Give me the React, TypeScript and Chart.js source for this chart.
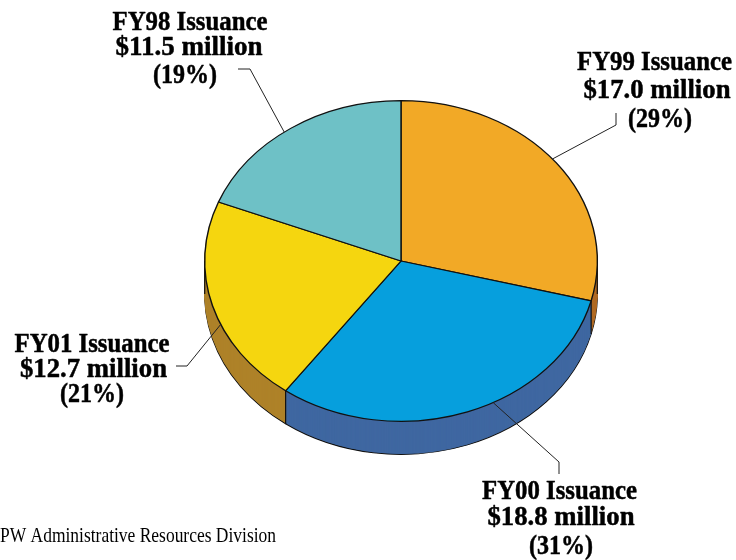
import React, { useEffect, useRef } from "react";
import { Chart, registerables } from "chart.js";

Chart.register(...registerables);

// Data
const categories = ["FY99 Issuance", "FY00 Issuance", "FY01 Issuance", "FY98 Issuance"];
const percents = [29, 31, 21, 19];
const amountLabels = ["$17.0 million", "$18.8 million", "$12.7 million", "$11.5 million"];
const percentLabels = ["(29%)", "(31%)", "(21%)", "(19%)"];
const footer = "PW Administrative Resources Division";

// Styles
const topColors = ["#F2A926", "#069FDD", "#F5D60F", "#6EC1C6"];
const sideColors = ["#B06A24", "#3F67A1", "#AE8229", "#4F8E92"];
const squash = 0.817;
const depth = 33;
const labelCenters = [
  [654.5, 657, 660],
  [559.5, 561, 561],
  [92, 93.5, 92],
  [190, 189, 185],
];
const labelWidths = [155, 147, 64];
const labelBaselines = [
  [70, 98, 127],
  [499, 525, 554],
  [352, 377, 402],
  [30, 55, 83],
];
const leaderTail = [
  [[616, 113], [616, 125]],
  [[559, 474], [559, 462]],
  [[176, 366], [187, 366]],
  [[238, 69], [250, 69]],
];
const leaderAngleShift = [-1.7, -8.2, -7.1, -2.3];

const pie3d = {
  id: "pie3d",
  beforeDatasetsDraw(chart: any) {
    const { ctx } = chart;
    const arcs = chart.getDatasetMeta(0).data;
    const cx = arcs[0].x;
    const cy = arcs[0].y;
    const r = arcs[0].outerRadius;
    ctx.save();
    // Extruded side, layer by layer from the bottom
    for (let d = depth; d >= 1; d--) {
      ctx.save();
      ctx.translate(0, d);
      ctx.translate(0, cy);
      ctx.scale(1, squash);
      ctx.translate(0, -cy);
      arcs.forEach((arc: any, i: number) => {
        const orig = arc.options;
        const o = Object.create(orig);
        o.backgroundColor = sideColors[i];
        o.borderColor = d === depth ? "#111" : sideColors[i];
        o.borderWidth = d === depth ? 1.2 : 0.6;
        arc.options = o;
        arc.draw(ctx);
        arc.options = orig;
      });
      ctx.restore();
    }
    // Vertical edges of the side wall
    ctx.strokeStyle = "#111";
    ctx.lineWidth = 1.2;
    const edge = (a: number) => {
      const x = cx + r * Math.cos(a);
      const y = cy + squash * r * Math.sin(a);
      ctx.beginPath();
      ctx.moveTo(x, y);
      ctx.lineTo(x, y + depth);
      ctx.stroke();
    };
    edge(arcs[2].startAngle);
    edge(arcs[1].startAngle);
    edge(Math.PI);
    edge(0);
    ctx.restore();
    // Squash the top face into an ellipse
    ctx.save();
    ctx.translate(0, cy);
    ctx.scale(1, squash);
    ctx.translate(0, -cy);
  },
  afterDatasetsDraw(chart: any) {
    const { ctx } = chart;
    ctx.restore();
    const arcs = chart.getDatasetMeta(0).data;
    const cx = arcs[0].x;
    const cy = arcs[0].y;
    const r = arcs[0].outerRadius;
    ctx.save();
    // Leaders
    ctx.strokeStyle = "#222";
    ctx.lineWidth = 1;
    arcs.forEach((arc: any, i: number) => {
      const a = (arc.startAngle + arc.endAngle) / 2 + (leaderAngleShift[i] * Math.PI) / 180;
      const [p0, p1] = leaderTail[i];
      ctx.beginPath();
      ctx.moveTo(p0[0], p0[1]);
      ctx.lineTo(p1[0], p1[1]);
      ctx.lineTo(cx + r * Math.cos(a), cy + squash * r * Math.sin(a));
      ctx.stroke();
    });
    // Labels
    ctx.fillStyle = "#000";
    ctx.strokeStyle = "#000";
    ctx.lineWidth = 0.5;
    ctx.lineJoin = "round";
    ctx.textAlign = "center";
    ctx.textBaseline = "alphabetic";
    ctx.font = 'bold 28px "Liberation Serif"';
    categories.forEach((c, i) => {
      const lines = [c, amountLabels[i], percentLabels[i]];
      lines.forEach((t, j) => {
        ctx.fillText(t, labelCenters[i][j], labelBaselines[i][j], labelWidths[j]);
        ctx.strokeText(t, labelCenters[i][j], labelBaselines[i][j], labelWidths[j]);
      });
    });
    ctx.textAlign = "left";
    ctx.font = '21px "Liberation Serif"';
    ctx.fillText(footer, 0, 542, 276);
    ctx.restore();
  },
};

export default function App() {
  const ref = useRef<HTMLCanvasElement | null>(null);
  useEffect(() => {
    document.body.style.margin = "0";
    document.body.style.background = "#fff";
    const chart = new Chart(ref.current as HTMLCanvasElement, {
      type: "pie",
      data: {
        labels: categories,
        datasets: [
          {
            data: percents,
            backgroundColor: topColors,
            borderColor: "#111",
            borderWidth: 1.4,
          },
        ],
      },
      options: {
        responsive: false,
        animation: false,
        layout: { padding: { left: 204, right: 138, top: 64, bottom: 102 } },
        plugins: { legend: { display: false }, tooltip: { enabled: false } },
      },
      plugins: [pie3d],
    } as any);
    return () => chart.destroy();
  }, []);
  return <canvas ref={ref} width={736} height={560} style={{ display: "block" }} />;
}
